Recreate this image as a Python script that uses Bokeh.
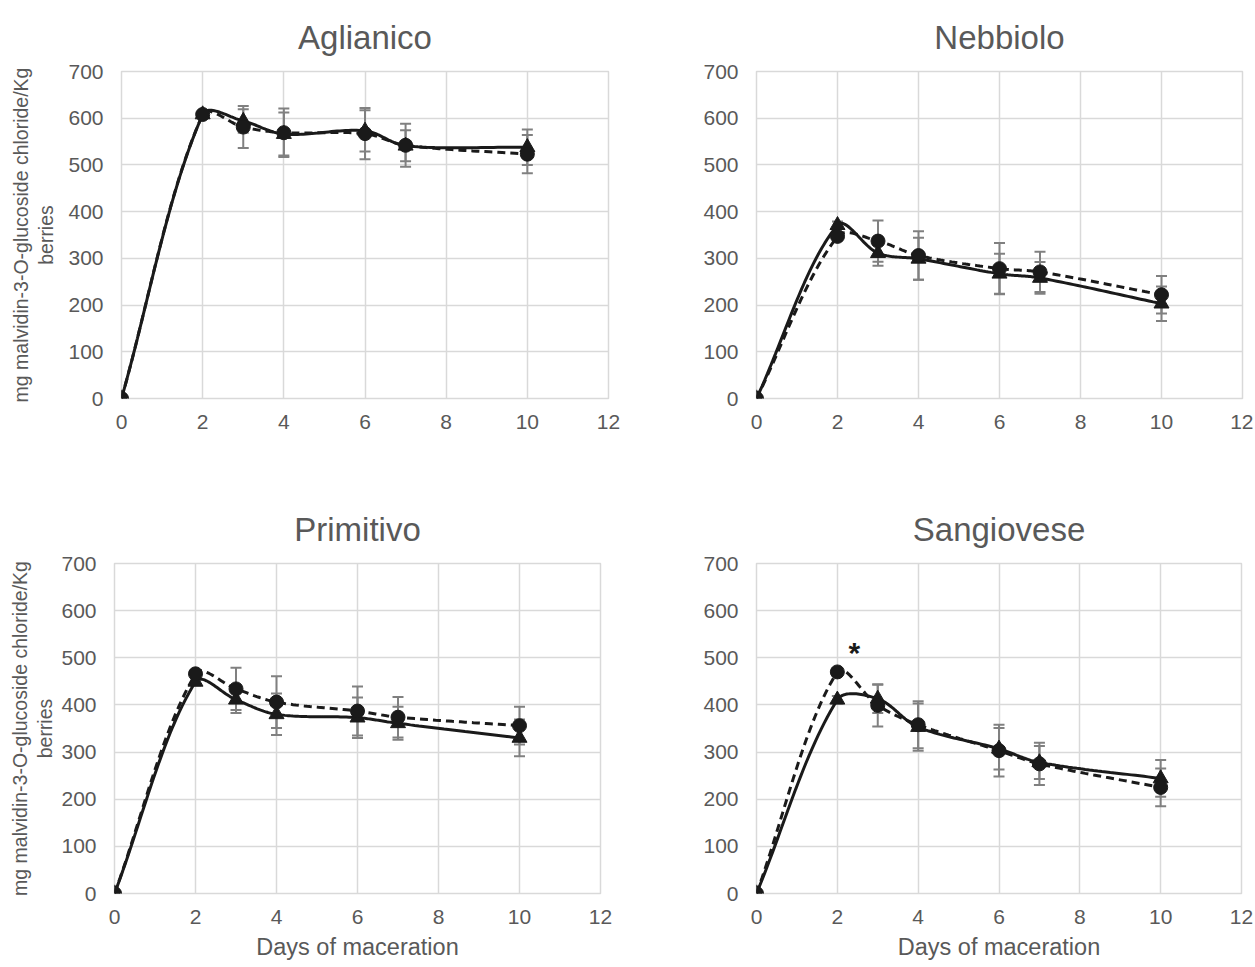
import numpy as np
from bokeh.plotting import figure
from bokeh.layouts import column, row
from bokeh.models import Range1d, FixedTicker
from bokeh.core.properties import value
from bokeh.embed import file_html
from bokeh.resources import INLINE

# ---------------- data ----------------
days = [0, 2, 3, 4, 6, 7, 10]
x_ticks = [0, 2, 4, 6, 8, 10, 12]
y_ticks = [0, 100, 200, 300, 400, 500, 600, 700]

cultivars = ["Aglianico", "Nebbiolo", "Primitivo", "Sangiovese"]

# triangle series (solid line)
aglianico_tri = [0, 608, 594, 566, 573, 541, 538]
aglianico_tri_err = [0, 0, 25, 46, 44, 33, 38]
# circle series (dashed line)
aglianico_cir = [0, 608, 581, 569, 567, 542, 523]
aglianico_cir_err = [0, 0, 45, 52, 55, 46, 41]

nebbiolo_tri = [0, 371, 311, 299, 267, 258, 203]
nebbiolo_tri_err = [0, 8, 27, 45, 43, 34, 37]
nebbiolo_cir = [0, 347, 337, 306, 278, 271, 222]
nebbiolo_cir_err = [0, 8, 44, 52, 55, 43, 40]

primitivo_tri = [0, 449, 411, 380, 373, 361, 330]
primitivo_tri_err = [0, 8, 28, 44, 43, 35, 39]
primitivo_cir = [0, 466, 434, 406, 387, 374, 356]
primitivo_cir_err = [0, 8, 45, 55, 52, 43, 40]

sangiovese_tri = [0, 411, 413, 353, 307, 278, 244]
sangiovese_tri_err = [0, 8, 30, 50, 44, 35, 39]
sangiovese_cir = [0, 470, 399, 358, 303, 275, 225]
sangiovese_cir_err = [0, 8, 45, 50, 55, 45, 40]

# significance marker: (cultivar, day)
significance = [("Sangiovese", 2)]

y_label = "mg malvidin-3-O-glucoside chloride/Kg\nberries"
x_label = "Days of maceration"

FONT = "Liberation Sans"
GRAY_TXT = "#595959"
GRID = "#d9d9d9"
ERR = "#808080"
INK = "#1a1a1a"


def excel_smooth(xs, ys, sx, sy, n=30):
    P = np.column_stack([np.asarray(xs, float) * sx, np.asarray(ys, float) * sy])
    m = len(P)
    out = [P[0]]
    for i in range(m - 1):
        p0 = P[i - 1] if i > 0 else P[i]
        p1, p2 = P[i], P[i + 1]
        p3 = P[i + 2] if i + 2 < m else P[i + 1]
        d01 = np.linalg.norm(p1 - p0)
        d12 = np.linalg.norm(p2 - p1)
        d23 = np.linalg.norm(p3 - p2)
        f1 = d12 / (3 * (d01 + d12)) if d01 + d12 > 0 else 0
        f2 = d12 / (3 * (d12 + d23)) if d12 + d23 > 0 else 0
        c1 = p1 + (p2 - p0) * f1
        c2 = p2 - (p3 - p1) * f2
        t = np.linspace(0, 1, n)[1:, None]
        B = (1 - t) ** 3 * p1 + 3 * (1 - t) ** 2 * t * c1 + 3 * (1 - t) * t ** 2 * c2 + t ** 3 * p2
        out.extend(B)
    out = np.array(out)
    return out[:, 0] / sx, out[:, 1] / sy


def make_panel(name, tri, tri_err, cir, cir_err, bl, br, bt, bb, fw, fh,
               show_ylabel, show_xlabel, ylab_standoff=8, xlab_standoff=7):
    p = figure(width=bl + fw + br, height=bt + fh + bb,
               min_border_left=bl, min_border_right=br,
               min_border_top=bt, min_border_bottom=bb,
               x_range=Range1d(0, 12), y_range=Range1d(0, 700),
               output_backend="svg", toolbar_location=None,
               background_fill_color="white", border_fill_color="white")
    p.title.text = name
    p.title.align = "center"
    p.title.text_font = FONT
    p.title.text_font_size = "33px"
    p.title.text_font_style = "normal"
    p.title.text_color = GRAY_TXT
    p.title.standoff = 31

    p.outline_line_color = GRID
    p.outline_line_width = 1.5

    for ax in (p.xaxis[0], p.yaxis[0]):
        ax.axis_line_color = None
        ax.major_tick_line_color = None
        ax.minor_tick_line_color = None
        ax.major_tick_out = 0
        ax.major_tick_in = 0
        ax.minor_tick_out = 0
        ax.minor_tick_in = 0
        ax.major_label_text_font = FONT
        ax.major_label_text_font_size = "21px"
        ax.major_label_text_color = GRAY_TXT
        ax.axis_label_text_font = FONT
        ax.axis_label_text_font_style = "normal"
        ax.axis_label_text_color = GRAY_TXT
    p.xaxis[0].ticker = FixedTicker(ticks=x_ticks)
    p.yaxis[0].ticker = FixedTicker(ticks=y_ticks)
    p.xaxis[0].major_label_standoff = 16
    p.yaxis[0].major_label_standoff = 18
    if show_ylabel:
        p.yaxis[0].axis_label = y_label
        p.yaxis[0].axis_label_text_font_size = "19.5px"
        p.yaxis[0].axis_label_text_line_height = 1.15
        p.yaxis[0].axis_label_standoff = ylab_standoff
    if show_xlabel:
        p.xaxis[0].axis_label = x_label
        p.xaxis[0].axis_label_text_font_size = "23.5px"
        p.xaxis[0].axis_label_standoff = xlab_standoff

    for g in (p.xgrid[0], p.ygrid[0]):
        g.grid_line_color = GRID
        g.grid_line_width = 1.5
    p.xgrid[0].ticker = FixedTicker(ticks=x_ticks)
    p.ygrid[0].ticker = FixedTicker(ticks=y_ticks)

    sx = fw / 12.0
    sy = fh / 700.0

    # error bars
    for vals, errs in ((tri, tri_err), (cir, cir_err)):
        xs = [d for d, e in zip(days, errs) if e > 0]
        lo = [v - e for v, e in zip(vals, errs) if e > 0]
        hi = [v + e for v, e in zip(vals, errs) if e > 0]
        p.segment(x0=xs, y0=lo, x1=xs, y1=hi, line_color=ERR, line_width=2)
        p.scatter(xs, lo, marker="dash", size=11, line_color=ERR, line_width=2)
        p.scatter(xs, hi, marker="dash", size=11, line_color=ERR, line_width=2)

    # smoothed lines
    tx, ty = excel_smooth(days, tri, sx, sy)
    cx, cy = excel_smooth(days, cir, sx, sy)
    p.line(tx, ty, line_color=INK, line_width=3)
    p.line(cx, cy, line_color=INK, line_width=3, line_dash="8 5")

    # markers
    p.scatter(days, tri, marker="triangle", size=15, fill_color=INK, line_color=INK)
    p.scatter(days, cir, marker="circle", size=14, fill_color=INK, line_color=INK)

    for cv, d in significance:
        if cv == name:
            i = days.index(d)
            top = max(tri[i], cir[i])
            p.text(x=[d], y=[top], text=["*"], text_font=value(FONT),
                   text_font_size="30px", text_font_style="bold", text_color=INK,
                   text_align="center", text_baseline="middle",
                   x_offset=17, y_offset=-19)
    return p


p1 = make_panel("Aglianico", aglianico_tri, aglianico_tri_err, aglianico_cir, aglianico_cir_err,
                bl=121, br=60, bt=71, bb=71, fw=487, fh=327,
                show_ylabel=True, show_xlabel=False, ylab_standoff=8)
p2 = make_panel("Nebbiolo", nebbiolo_tri, nebbiolo_tri_err, nebbiolo_cir, nebbiolo_cir_err,
                bl=88, br=11, bt=71, bb=71, fw=486, fh=327,
                show_ylabel=False, show_xlabel=False)
p3 = make_panel("Primitivo", primitivo_tri, primitivo_tri_err, primitivo_cir, primitivo_cir_err,
                bl=114, br=56, bt=94, bb=73, fw=486, fh=330,
                show_ylabel=True, show_xlabel=True, ylab_standoff=2, xlab_standoff=7)
p4 = make_panel("Sangiovese", sangiovese_tri, sangiovese_tri_err, sangiovese_cir, sangiovese_cir_err,
                bl=100, br=12, bt=94, bb=73, fw=485, fh=330,
                show_ylabel=False, show_xlabel=True, xlab_standoff=7)

layout = column(row(p1, p2), row(p3, p4))
open("out.html", "w").write(file_html(layout, INLINE))
